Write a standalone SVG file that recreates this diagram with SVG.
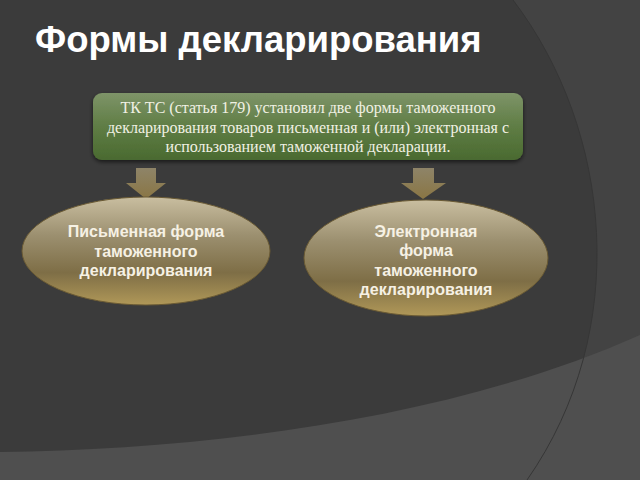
<svg xmlns="http://www.w3.org/2000/svg" width="640" height="480" viewBox="0 0 640 480">
<defs>
<linearGradient id="gbox" x1="0" y1="0" x2="0" y2="1">
<stop offset="0" stop-color="#7e9468"/>
<stop offset="0.5" stop-color="#5f7d45"/>
<stop offset="1" stop-color="#4a6a30"/>
</linearGradient>
<linearGradient id="gell" x1="0" y1="0" x2="0" y2="1">
<stop offset="0" stop-color="#c9bea0"/>
<stop offset="0.35" stop-color="#9c9070"/>
<stop offset="0.7" stop-color="#7e6e46"/>
<stop offset="1" stop-color="#b09858"/>
</linearGradient>
<linearGradient id="garr" x1="0" y1="0" x2="0" y2="1">
<stop offset="0" stop-color="#8e8468"/>
<stop offset="1" stop-color="#8a7644"/>
</linearGradient>
<filter id="sh" x="-10%" y="-20%" width="120%" height="150%">
<feGaussianBlur in="SourceAlpha" stdDeviation="2"/>
<feOffset dx="0" dy="2"/>
<feComponentTransfer><feFuncA type="linear" slope="0.6"/></feComponentTransfer>
<feMerge><feMergeNode/><feMergeNode in="SourceGraphic"/></feMerge>
</filter>
<style>
.t{font-family:"Liberation Serif","Times New Roman",serif;font-size:16px;fill:#f1f1e4;text-anchor:middle}
.e{font-family:"Liberation Sans",Arial,sans-serif;font-size:16px;font-weight:bold;fill:#f6f1e4;text-anchor:middle}
.ell{fill:url(#gell);stroke:#6a5a34;stroke-width:1}
.arr{fill:url(#garr)}
</style>
</defs>
<g id="background">
<rect width="640" height="480" fill="#3b3b3b"/>
<path d="M513,0 C612,130 632,330 527,480 L640,480 L640,0 Z" fill="#434343"/>
<path d="M0,452 C200,450 450,420 640,335 L640,480 L0,480 Z" fill="#4f4f4f"/>
<path d="M513,0 C612,130 632,330 527,480" fill="none" stroke="#363636" stroke-width="1"/>
</g>
<g id="title">
<text x="35" y="52" font-family="'Liberation Sans',Arial,sans-serif" font-size="36.5" font-weight="bold" fill="#ffffff">Формы декларирования</text>
</g>
<g id="box">
<rect x="93" y="93" width="430" height="67" rx="9" fill="url(#gbox)" filter="url(#sh)"/>
<text class="t" x="308" y="113">ТК ТС (статья 179) установил две формы таможенного</text>
<text class="t" x="308" y="133">декларирования товаров письменная и (или) электронная с</text>
<text class="t" x="308" y="152">использованием таможенной декларации.</text>
</g>
<g id="connectors">
<path class="arr" d="M136,168 H156 V183 H166 L146,199 L126,183 H136 Z"/>
<path class="arr" d="M413,168 H434 V183 H446 L423,199 L401,183 H413 Z"/>
</g>
<g id="node-written">
<ellipse class="ell" cx="146" cy="251" rx="124" ry="54"/>
<text class="e" x="146" y="237">Письменная форма</text>
<text class="e" x="146" y="257">таможенного</text>
<text class="e" x="146" y="276">декларирования</text>
</g>
<g id="node-electronic">
<ellipse class="ell" cx="426" cy="258" rx="122" ry="58"/>
<text class="e" x="426" y="237">Электронная</text>
<text class="e" x="426" y="256">форма</text>
<text class="e" x="426" y="276">таможенного</text>
<text class="e" x="426" y="295">декларирования</text>
</g>
</svg>
